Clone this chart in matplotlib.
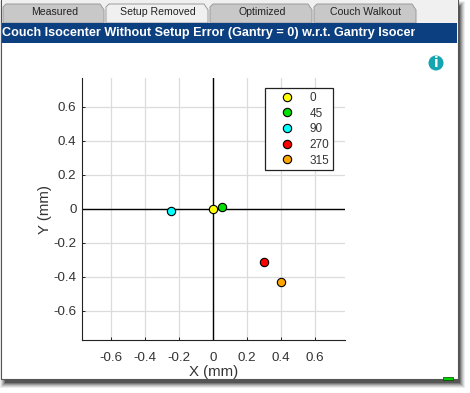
import matplotlib
matplotlib.use('Agg')
import matplotlib.pyplot as plt
from matplotlib.patches import Rectangle, Polygon, Circle

# couch angle -> offset in mm
angles = ['0', '45', '90', '270', '315']
x_vals = [0.0, 0.05, -0.25, 0.30, 0.40]
y_vals = [0.0, 0.01, -0.01, -0.31, -0.43]
colors = ['#ffff00', '#00e000', '#00ffff', '#ff0000', '#ffa500']

ticks = [-0.6, -0.4, -0.2, 0, 0.2, 0.4, 0.6]
tick_labels = ['-0.6', '-0.4', '-0.2', '0', '0.2', '0.4', '0.6']
tab_names = ['Measured', 'Setup Removed', 'Optimized', 'Couch Walkout']
title = 'Couch Isocenter Without Setup Error (Gantry = 0) w.r.t. Gantry Isocenter'

W, H = 470, 393
plt.rcParams['font.family'] = ['Liberation Sans', 'DejaVu Sans']

fig = plt.figure(figsize=(W / 100, H / 100), dpi=100, facecolor='white')

# window chrome is drawn in pixel coordinates
bg = fig.add_axes([0, 0, 1, 1], zorder=0)
bg.set_xlim(0, W)
bg.set_ylim(H, 0)
bg.axis('off')

# drop shadow
for grow, alpha in [(6, 0.07), (5, 0.09), (4, 0.12), (3, 0.16), (2, 0.22), (1, 0.3)]:
    bg.add_patch(Rectangle((6 - grow, 7 - grow), 453 + 2 * grow, 375 + 2 * grow,
                           fc='black', ec='none', alpha=alpha))
bg.add_patch(Rectangle((1, -2), 457, 381, fc='white', ec='#555555', lw=0.8))
bg.add_patch(Rectangle((2, 0), 455, 23, fc='#f0f0f0', ec='none'))

# tabs
tab_edges = [(3, 104), (106, 208), (210, 312), (314, 416)]
for i, (name, (x0, x1)) in enumerate(zip(tab_names, tab_edges)):
    fill = '#f0f0f0' if i == 1 else '#c8c8c8'
    bg.add_patch(Polygon([(x0, 23), (x0, 7), (x0 + 3, 4), (x1 - 4, 4), (x1, 10), (x1, 23)],
                         closed=True, fc=fill, ec='#9a9a9a', lw=0.7))
    bg.text((x0 + x1) / 2 + 1, 12, name, ha='center', va='center', fontsize=7.6, color='#222222')

# blue title band, text is cut off before the band's right end
band = Rectangle((2, 23), 455, 20, fc='#0b3f80', ec='none')
bg.add_patch(band)
clip = Rectangle((1, 23), 414, 20, transform=bg.transData)
title_text = bg.text(1.5, 33, title, ha='left', va='center', fontsize=9.1,
                     fontweight='bold', color='white', clip_on=True)
title_text.set_clip_path(clip)

# info icon
bg.add_patch(Circle((436, 63), 7.5, fc='#14a5b0', ec='none'))
bg.text(436, 63, 'i', ha='center', va='center', fontsize=10, fontweight='bold',
        family=['DejaVu Sans'], color='white')

# small green marker in the corner
bg.add_patch(Rectangle((443, 377), 10, 3, fc='#00d000', ec='#004400', lw=0.5))

# the plot
ax = fig.add_axes([82 / W, 1 - 340 / H, (345 - 82) / W, (340 - 78) / H], zorder=1)
ax.set_xlim(-0.772, 0.776)
ax.set_ylim(-0.772, 0.77)
ax.set_xticks(ticks)
ax.set_yticks(ticks)
ax.set_xticklabels(tick_labels)
ax.set_yticklabels(tick_labels)
ax.grid(True, color='#dcdcdc', lw=0.9)
ax.set_axisbelow(True)
ax.spines['top'].set_visible(False)
ax.spines['right'].set_visible(False)
ax.spines['left'].set_color('#222222')
ax.spines['bottom'].set_color('#222222')
ax.tick_params(direction='in', length=2.5, width=0.7, labelsize=9.6,
               labelcolor='#333333', color='#222222')
ax.tick_params(axis='x', pad=8.5)
ax.tick_params(axis='y', pad=4)
ax.axhline(0, color='black', lw=1, zorder=2)
ax.axvline(0, color='black', lw=1, zorder=2)

for a, xv, yv, c in zip(angles, x_vals, y_vals, colors):
    ax.plot([xv], [yv], 'o', ms=6, mfc=c, mec='black', mew=0.8, ls='none',
            label=a, zorder=3)

ax.set_xlabel('X (mm)', fontsize=10.8, color='#333333', labelpad=1)
ax.set_ylabel('Y (mm)', fontsize=10.8, color='#333333', labelpad=1)

leg = ax.legend(loc='upper left', bbox_to_anchor=((265 - 82) / 263, (340 - 88) / 262),
                borderaxespad=0, fontsize=8.5, labelcolor='#333333', fancybox=False,
                framealpha=1, edgecolor='#222222', labelspacing=0.31,
                handletextpad=0.3, borderpad=0.33, handlelength=3.15)
leg.get_frame().set_linewidth(0.9)

fig.savefig('out.png', dpi=100)
